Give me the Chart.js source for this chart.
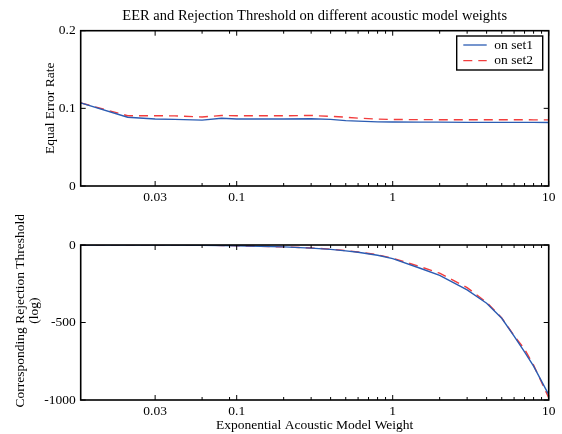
<!DOCTYPE html>
<html>
<head>
<meta charset="utf-8">
<script src="https://cdn.jsdelivr.net/npm/chart.js@4.4.1/dist/chart.umd.min.js"></script>
<style>
  html, body { margin: 0; padding: 0; background: #fff; }
  #wrap { position: relative; width: 562px; height: 434px; }
  canvas { position: absolute; left: 0; }
  #eerChart { top: 0; }
  #thrChart { top: 215px; }
</style>
</head>
<body>
<div id="wrap">
  <canvas id="eerChart" width="562" height="205"></canvas>
  <canvas id="thrChart" width="562" height="219"></canvas>
</div>
<script>
const weights  = [0.01, 0.02, 0.03, 0.04, 0.06, 0.08, 0.1, 0.2, 0.3, 0.4, 0.5, 0.6, 0.8, 1, 1.5, 2, 3, 4, 5, 6, 7, 8, 10];
const eerSet1  = [0.107, 0.0885, 0.0863, 0.0858, 0.0848, 0.0872, 0.0863, 0.0862, 0.0866, 0.0858, 0.0842, 0.0835, 0.0826, 0.0824, 0.0822, 0.0822, 0.082, 0.082, 0.082, 0.082, 0.082, 0.082, 0.0818];
const eerSet2  = [0.107, 0.0905, 0.0905, 0.0903, 0.0889, 0.0908, 0.0905, 0.0905, 0.0908, 0.0897, 0.0886, 0.0874, 0.0862, 0.0856, 0.0855, 0.0854, 0.0854, 0.0854, 0.0853, 0.0853, 0.0853, 0.0852, 0.0852];
const thrSet1  = [0, 0, 0, 0, -2, -3, -5, -12, -20, -28, -38, -47, -66, -88, -150, -196, -290, -376, -473, -588, -690, -782, -965];
const thrSet2  = [0, 0, 0, 0, -2, -3, -5, -12, -19, -27, -36, -45, -63, -85, -140, -182, -275, -370, -470, -585, -672, -775, -985];
const seriesNames = ['on set1', 'on set2'];
const xTickValues = [0.03, 0.1, 1, 10];
const xMinorTicks = [0.06, 0.09, 0.2, 0.3, 0.4, 0.5, 0.6, 0.7, 0.8, 0.9, 2, 3, 4, 5, 6, 7, 8, 9];
const eerTicks = [0, 0.1, 0.2];
const thrTicks = [-1000, -500, 0];

const FONT = '"Liberation Serif", "Times New Roman", serif';
Chart.defaults.font.family = FONT;
Chart.defaults.font.size = 13.5;
Chart.defaults.color = '#000';

const BLUE = '#2b5cb3';
const RED = '#f23d3d';

function toPoints(ys) {
  return weights.map((w, i) => ({ x: w, y: ys[i] }));
}

function makeDatasets(a, b) {
  return [
    { label: seriesNames[0], data: toPoints(a), borderColor: BLUE, borderWidth: 1.4, pointRadius: 0, tension: 0, fill: false },
    { label: seriesNames[1], data: toPoints(b), borderColor: RED, borderWidth: 1.4, borderDash: [9, 6], pointRadius: 0, tension: 0, fill: false }
  ];
}

// matlab style box with inward ticks on all four sides
const boxPlugin = {
  id: 'box',
  afterDraw(chart) {
    const { ctx, chartArea: ca, scales } = chart;
    ctx.save();
    ctx.strokeStyle = '#000';
    ctx.lineWidth = 1;
    const tick = (x1, y1, x2, y2) => { ctx.beginPath(); ctx.moveTo(x1, y1); ctx.lineTo(x2, y2); ctx.stroke(); };
    xTickValues.forEach(v => {
      const x = scales.x.getPixelForValue(v);
      tick(x, ca.bottom, x, ca.bottom - 5);
      tick(x, ca.top, x, ca.top + 5);
    });
    xMinorTicks.forEach(v => {
      const x = scales.x.getPixelForValue(v);
      tick(x, ca.bottom, x, ca.bottom - 3);
      tick(x, ca.top, x, ca.top + 3);
    });
    scales.y.ticks.forEach(t => {
      const y = scales.y.getPixelForValue(t.value);
      tick(ca.left, y, ca.left + 5, y);
      tick(ca.right, y, ca.right - 5, y);
    });
    ctx.lineWidth = 1.6;
    ctx.strokeRect(ca.left, ca.top, ca.right - ca.left, ca.bottom - ca.top);
    ctx.restore();
  }
};

const legendPlugin = {
  id: 'boxLegend',
  afterDraw(chart) {
    const { ctx, chartArea: ca } = chart;
    const x1 = ca.right - 92, y1 = ca.top + 5.3, w = 86, h = 34;
    ctx.save();
    ctx.fillStyle = '#fff';
    ctx.fillRect(x1, y1, w, h);
    ctx.strokeStyle = '#000';
    ctx.lineWidth = 1.4;
    ctx.strokeRect(x1, y1, w, h);
    chart.data.datasets.forEach((ds, i) => {
      const y = y1 + 9 + i * 15.7;
      ctx.strokeStyle = ds.borderColor;
      ctx.lineWidth = 1.3;
      ctx.setLineDash(ds.borderDash || []);
      ctx.beginPath();
      ctx.moveTo(x1 + 6.6, y);
      ctx.lineTo(x1 + 30, y);
      ctx.stroke();
      ctx.setLineDash([]);
      ctx.fillStyle = '#000';
      ctx.font = '13.5px ' + FONT;
      ctx.textBaseline = 'middle';
      ctx.fillText(ds.label, x1 + 37.6, y);
    });
    ctx.restore();
  }
};

function xScale(height, titleText) {
  return {
    type: 'logarithmic',
    min: 0.01,
    max: 10,
    grid: { display: false, drawTicks: false },
    border: { display: false },
    ticks: { padding: 3, autoSkip: false, maxRotation: 0, callback: v => String(v) },
    afterBuildTicks: s => { s.ticks = xTickValues.map(v => ({ value: v })); },
    afterFit: s => { s.height = height; },
    title: titleText
      ? { display: true, text: titleText, padding: { top: 0, bottom: 0 }, font: { size: 13.5 } }
      : { display: false }
  };
}

function yScale(min, max, tickList, width, title) {
  return {
    min: min,
    max: max,
    grid: { display: false, drawTicks: false },
    border: { display: false },
    ticks: { padding: 5, autoSkip: false, callback: v => String(v) },
    afterBuildTicks: s => { s.ticks = tickList.map(v => ({ value: v })); },
    afterFit: s => { s.width = width; },
    title: title
  };
}

new Chart(document.getElementById('eerChart'), {
  type: 'line',
  data: { datasets: makeDatasets(eerSet1, eerSet2) },
  options: {
    responsive: false,
    animation: false,
    layout: { padding: { left: 42.3, right: 13.3, top: 0, bottom: 0 } },
    plugins: {
      legend: { display: false },
      tooltip: { enabled: false },
      title: {
        display: true,
        text: 'EER and Rejection Threshold on different acoustic model weights',
        fullSize: false,
        padding: { top: 7.3, bottom: 6 },
        font: { size: 14.5, weight: 'normal' },
        color: '#000'
      }
    },
    scales: {
      x: xScale(19, null),
      y: yScale(0, 0.2, eerTicks, 38.4, { display: true, text: 'Equal Error Rate', padding: 0, font: { size: 13.5 } })
    }
  },
  plugins: [boxPlugin, legendPlugin]
});

// leading spaces nudge the rotated label upward, as in the source figure
const thrLabelPad = '\u2002\u2002\u2002 ';

new Chart(document.getElementById('thrChart'), {
  type: 'line',
  data: { datasets: makeDatasets(thrSet1, thrSet2) },
  options: {
    responsive: false,
    animation: false,
    layout: { padding: { left: 14.2, right: 13.3, top: 30, bottom: 0 } },
    plugins: {
      legend: { display: false },
      tooltip: { enabled: false }
    },
    scales: {
      x: xScale(34, 'Exponential Acoustic Model Weight'),
      y: yScale(-1000, 0, thrTicks, 66.5, {
        display: true,
        text: [thrLabelPad + 'Corresponding Rejection Threshold', thrLabelPad + '(log)'],
        padding: 0,
        font: { size: 13.5, lineHeight: 1 }
      })
    }
  },
  plugins: [boxPlugin]
});
</script>
</body>
</html>
